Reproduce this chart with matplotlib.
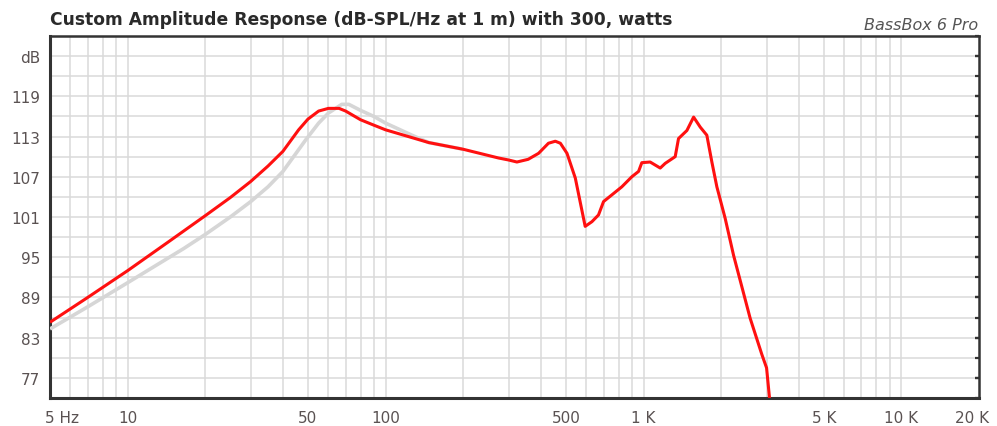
import matplotlib
matplotlib.use("Agg")
import matplotlib.pyplot as plt
from matplotlib.ticker import FixedLocator, NullFormatter
from matplotlib.transforms import ScaledTranslation

# red curve (current response)
freq_red = [5, 7, 10, 14.4, 20, 25, 30, 35, 40, 46, 50, 55, 60, 66, 70, 80, 90, 100,
            147, 200, 274, 300, 323, 357, 392, 428, 455, 476, 505, 544, 594, 631, 669,
            700, 754, 824, 901, 957, 985, 1061, 1161, 1214, 1327, 1367, 1473,
            1564, 1660, 1760, 1841, 1925, 2073, 2234, 2591, 2876, 3000, 3080]
db_red = [85.3, 89.0, 93.0, 97.3, 101.2, 103.9, 106.3, 108.6, 110.8, 114.0, 115.6,
          116.8, 117.2, 117.2, 116.8, 115.5, 114.7, 114.0, 112.1, 111.1, 109.8, 109.5,
          109.2, 109.6, 110.5, 112.0, 112.3, 112.0, 110.5, 106.8, 99.6, 100.3, 101.3,
          103.3, 104.3, 105.5, 107.0, 107.8, 109.1, 109.2, 108.3, 109.0, 110.0,
          112.7, 113.9, 115.9, 114.4, 113.2, 109.2, 105.5, 100.8, 95.3, 85.9,
          80.5, 78.5, 74.0]

# grey curve (reference response)
freq_grey = [5, 7, 10, 16.5, 20, 25, 30, 35, 40, 49, 55, 60, 67.6, 72, 80, 90, 100, 126.5, 147, 200]
db_grey = [84.3, 87.6, 91.2, 96.3, 98.4, 101.0, 103.3, 105.5, 107.8, 112.5, 115.0,
           116.5, 117.8, 117.8, 116.9, 116.0, 115.0, 113.2, 112.1, 111.1]

x_ticks = [5, 10, 50, 100, 500, 1000, 5000, 10000, 20000]
x_labels = ["5 Hz", "10", "50", "100", "500", "1 K", "5 K", "10 K", "20 K"]
y_ticks = [77, 83, 89, 95, 101, 107, 113, 119, 125]
y_labels = ["77", "83", "89", "95", "101", "107", "113", "119", "dB"]

plt.rcParams["font.family"] = ["DejaVu Sans"]

fig = plt.figure(figsize=(9.97, 4.27), dpi=100)
ax = fig.add_axes([0.0502, 0.0656, 0.9318, 0.8478])

ax.plot(freq_grey, db_grey, color="#d6d6d6", lw=2.6, solid_capstyle="butt", zorder=3)
ax.plot(freq_red, db_red, color="#ff1010", lw=2.2, solid_capstyle="butt", zorder=4)

ax.set_xscale("log")
ax.set_xlim(5, 20000)
ax.set_ylim(74, 128)

# grid lines: every 1-9 step of each decade, every 3 dB
grid_x = []
for dec in [1, 10, 100, 1000, 10000]:
    for m in range(1, 10):
        grid_x.append(m * dec)
grid_x = [v for v in grid_x if 5 < v < 20000]
ax.xaxis.remove_overlapping_locs = False
ax.yaxis.remove_overlapping_locs = False
ax.xaxis.set_major_locator(FixedLocator(x_ticks))
ax.xaxis.set_minor_locator(FixedLocator(grid_x))
ax.set_xticklabels(x_labels)
ax.xaxis.set_minor_formatter(NullFormatter())

ax.yaxis.set_major_locator(FixedLocator(y_ticks))
ax.yaxis.set_minor_locator(FixedLocator(list(range(74, 129, 3))))
ax.set_yticklabels(y_labels)
ax.yaxis.set_minor_formatter(NullFormatter())

ax.grid(True, which="minor", color="#dadada", lw=1.1, zorder=0)
ax.grid(False, which="major")

ax.tick_params(axis="y", which="both", left=False, right=True, direction="in",
               length=3, width=1.6, color="#333333", pad=7, labelsize=11,
               labelcolor="#5a5252")
ax.tick_params(axis="x", which="both", length=0, pad=9, labelsize=11,
               labelcolor="#5a5252")

labs = ax.get_xticklabels()
labs[0].set_transform(labs[0].get_transform() + ScaledTranslation(12 / 100, 0, fig.dpi_scale_trans))
labs[-1].set_transform(labs[-1].get_transform() + ScaledTranslation(-7 / 100, 0, fig.dpi_scale_trans))

for side in ["left", "bottom"]:
    ax.spines[side].set_linewidth(2.2)
    ax.spines[side].set_color("#333333")
for side in ["top", "right"]:
    ax.spines[side].set_linewidth(1.8)
    ax.spines[side].set_color("#333333")

fig.text(0.0502, 0.9415, "Custom Amplitude Response (dB-SPL/Hz at 1 m) with 300, watts",
         fontsize=12.3, fontweight="bold", color="#2a2a2a", ha="left", va="baseline")
fig.text(0.981, 0.9297, "BassBox 6 Pro", fontsize=11.5, style="italic",
         color="#555555", ha="right", va="baseline")

fig.savefig("out.png", dpi=100)
